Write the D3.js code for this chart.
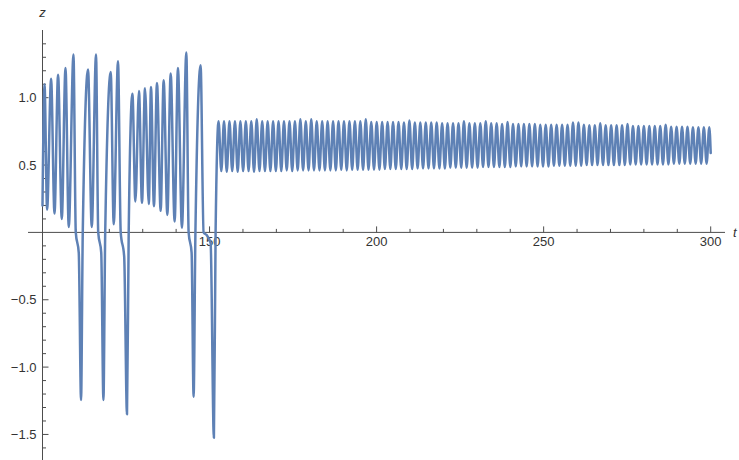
<!DOCTYPE html>
<html>
<head>
<meta charset="utf-8">
<script src="https://cdn.jsdelivr.net/npm/d3@7"></script>
<style>
  html, body { margin: 0; padding: 0; background: #fff; }
  svg { display: block; }
  text { font-family: "Liberation Sans", Arial, sans-serif; }
</style>
</head>
<body>
<svg id="chart" width="739" height="460"></svg>
<script>
// ---------- data ----------
// transient part: extremes and a few shape points
const earlyT = [100.00,100.60,101.38,102.57,103.59,104.66,105.77,106.88,107.86,109.27,109.96,110.85,111.54,112.05,113.63,114.74,116.02,116.68,117.58,118.24,118.77,120.42,121.32,122.60,123.41,124.45,125.29,125.80,126.91,127.80,128.88,129.78,130.67,131.82,132.47,133.36,134.26,135.37,136.26,137.37,138.36,139.55,140.54,141.73,143.05,143.74,144.63,145.23,145.77,147.32,148.22,149.12,150.32,151.30,151.81];
const earlyZ = [0.20,1.10,0.17,1.14,0.14,1.17,0.10,1.22,0.04,1.32,0.00,-0.15,-1.245,0.00,1.21,0.04,1.32,0.00,-0.15,-1.245,0.00,1.19,0.06,1.27,0.00,-0.18,-1.35,0.00,1.03,0.23,1.05,0.22,1.07,0.21,1.08,0.195,1.11,0.16,1.13,0.13,1.18,0.08,1.22,0.035,1.335,0.00,-0.15,-1.22,0.00,1.24,0.00,-0.02,-0.08,-1.525,0.00];

// regular oscillation: peaks
const peakT = [152.70,154.33,155.96,157.60,159.23,160.86,162.49,164.12,165.76,167.39,169.02,170.65,172.28,173.92,175.55,177.18,178.81,180.44,182.08,183.71,185.34,186.97,188.60,190.24,191.87,193.50,195.13,196.76,198.40,200.03,201.66,203.29,204.92,206.56,208.19,209.82,211.45,213.08,214.72,216.35,217.98,219.61,221.24,222.88,224.51,226.14,227.77,229.40,231.04,232.67,234.30,235.93,237.56,239.20,240.83,242.46,244.09,245.72,247.36,248.99,250.62,252.25,253.88,255.52,257.15,258.78,260.41,262.04,263.68,265.31,266.94,268.57,270.20,271.84,273.47,275.10,276.73,278.36,280.00,281.63,283.26,284.89,286.52,288.16,289.79,291.42,293.05,294.68,296.32,297.95,299.58];
const peakZ = [0.825,0.825,0.825,0.825,0.825,0.825,0.825,0.84,0.825,0.825,
               0.825,0.825,0.825,0.825,0.825,0.84,0.825,0.84,0.825,0.825,
               0.825,0.825,0.825,0.825,0.825,0.825,0.825,0.84,0.82,0.82,
               0.82,0.82,0.82,0.82,0.815,0.83,0.815,0.815,0.815,0.815,
               0.815,0.81,0.81,0.81,0.81,0.825,0.81,0.81,0.81,0.825,
               0.81,0.81,0.805,0.82,0.805,0.805,0.805,0.805,0.805,0.80,
               0.80,0.80,0.80,0.80,0.80,0.815,0.815,0.80,0.795,0.795,
               0.81,0.795,0.795,0.795,0.795,0.805,0.79,0.79,0.79,0.79,
               0.79,0.79,0.80,0.785,0.785,0.785,0.785,0.78,0.78,0.78,
               0.78];
// regular oscillation: troughs
const troughT = [153.52,155.15,156.78,158.42,160.05,161.68,163.31,164.94,166.58,168.21,169.84,171.47,173.10,174.74,176.37,178.00,179.63,181.26,182.90,184.53,186.16,187.79,189.42,191.06,192.69,194.32,195.95,197.58,199.22,200.85,202.48,204.11,205.74,207.38,209.01,210.64,212.27,213.90,215.54,217.17,218.80,220.43,222.06,223.70,225.33,226.96,228.59,230.22,231.86,233.49,235.12,236.75,238.38,240.02,241.65,243.28,244.91,246.54,248.18,249.81,251.44,253.07,254.70,256.34,257.97,259.60,261.23,262.86,264.50,266.13,267.76,269.39,271.02,272.66,274.29,275.92,277.55,279.18,280.82,282.45,284.08,285.71,287.34,288.98,290.61,292.24,293.87,295.50,297.14,298.77];
const troughZ = [0.455,0.45,0.455,0.45,0.455,0.455,0.45,0.455,0.455,0.455,
                 0.455,0.455,0.46,0.455,0.46,0.46,0.46,0.46,0.46,0.46,
                 0.46,0.46,0.465,0.46,0.465,0.465,0.465,0.465,0.465,0.465,
                 0.47,0.47,0.47,0.47,0.47,0.47,0.475,0.475,0.475,0.475,
                 0.475,0.475,0.48,0.48,0.48,0.48,0.48,0.48,0.485,0.485,
                 0.485,0.485,0.485,0.485,0.49,0.49,0.49,0.49,0.49,0.49,
                 0.49,0.495,0.495,0.495,0.495,0.495,0.495,0.5,0.5,0.5,
                 0.5,0.5,0.5,0.5,0.5,0.505,0.505,0.505,0.505,0.505,
                 0.505,0.505,0.505,0.51,0.51,0.51,0.51,0.51,0.51,0.51];
const endT = [300.0];
const endZ = [0.59];

const xMajorTicks = [150, 200, 250, 300];
const xTickLabels = ["150", "200", "250", "300"];
const xMinorTicks = [110,120,130,140,160,170,180,190,210,220,230,240,260,270,280,290];
const yMajorTicks = [-1.5, -1.0, -0.5, 0.5, 1.0];
const yTickLabels = ["\u22121.5", "\u22121.0", "\u22120.5", "0.5", "1.0"];
const yMinorTicks = [-1.6,-1.4,-1.3,-1.2,-1.1,-0.9,-0.8,-0.7,-0.6,-0.4,-0.3,-0.2,-0.1,0.1,0.2,0.3,0.4,0.6,0.7,0.8,0.9,1.1,1.2,1.3,1.4];
const xAxisLabel = "t";
const yAxisLabel = "z";

// ---------- build series ----------
const series = [];
earlyT.forEach((t, i) => series.push({t, z: earlyZ[i]}));
peakT.forEach((t, i) => {
  series.push({t, z: peakZ[i]});
  if (i < troughT.length) series.push({t: troughT[i], z: troughZ[i]});
});
endT.forEach((t, i) => series.push({t, z: endZ[i]}));

// ---------- scales ----------
const svg = d3.select("#chart");
const x = d3.scaleLinear().domain([100, 300]).range([42.5, 710.7]);
const y = d3.scaleLinear().domain([-1.5, 1.0]).range([434.45, 97.7]);

const axisColor = "#4d4d4d";
const labelColor = "#333";

// ---------- axes ----------
const x0 = x(100), y0 = y(0);
svg.append("line").attr("x1", 28).attr("x2", 725).attr("y1", y0).attr("y2", y0)
  .attr("stroke", axisColor).attr("stroke-width", 1);
svg.append("line").attr("x1", x0).attr("x2", x0).attr("y1", 30).attr("y2", 460)
  .attr("stroke", axisColor).attr("stroke-width", 1);

const gx = svg.append("g");
gx.selectAll("line.minor").data(xMinorTicks).join("line")
  .attr("x1", d => x(d)).attr("x2", d => x(d))
  .attr("y1", y0).attr("y2", y0 - 3.5)
  .attr("stroke", axisColor).attr("stroke-width", 1);
gx.selectAll("line.major").data(xMajorTicks).join("line")
  .attr("x1", d => x(d)).attr("x2", d => x(d))
  .attr("y1", y0).attr("y2", y0 - 6)
  .attr("stroke", axisColor).attr("stroke-width", 1);
gx.selectAll("text").data(xMajorTicks).join("text")
  .attr("x", d => x(d)).attr("y", y0 + 14)
  .attr("text-anchor", "middle")
  .attr("font-size", 13).attr("fill", labelColor)
  .text((d, i) => xTickLabels[i]);

const gy = svg.append("g");
gy.selectAll("line.minor").data(yMinorTicks).join("line")
  .attr("x1", x0).attr("x2", x0 + 3.5)
  .attr("y1", d => y(d)).attr("y2", d => y(d))
  .attr("stroke", axisColor).attr("stroke-width", 1);
gy.selectAll("line.major").data(yMajorTicks).join("line")
  .attr("x1", x0).attr("x2", x0 + 6)
  .attr("y1", d => y(d)).attr("y2", d => y(d))
  .attr("stroke", axisColor).attr("stroke-width", 1);
gy.selectAll("text").data(yMajorTicks).join("text")
  .attr("x", x0 - 6).attr("y", d => y(d) + 4.5)
  .attr("text-anchor", "end")
  .attr("font-size", 13).attr("fill", labelColor)
  .text((d, i) => yTickLabels[i]);

svg.append("text").attr("x", x0).attr("y", 17).attr("text-anchor", "middle")
  .attr("font-size", 13).attr("font-style", "italic").attr("fill", labelColor)
  .text(yAxisLabel);
svg.append("text").attr("x", 733).attr("y", y0 + 5).attr("text-anchor", "start")
  .attr("font-size", 13).attr("font-style", "italic").attr("fill", labelColor)
  .text(xAxisLabel);

// ---------- line ----------
const line = d3.line().x(d => x(d.t)).y(d => y(d.z)).curve(d3.curveMonotoneX);
svg.append("path").datum(series)
  .attr("d", line)
  .attr("fill", "none")
  .attr("stroke", "#5e81b5")
  .attr("stroke-width", 2.5)
  .attr("stroke-linejoin", "round")
  .attr("stroke-linecap", "round");
</script>
</body>
</html>
